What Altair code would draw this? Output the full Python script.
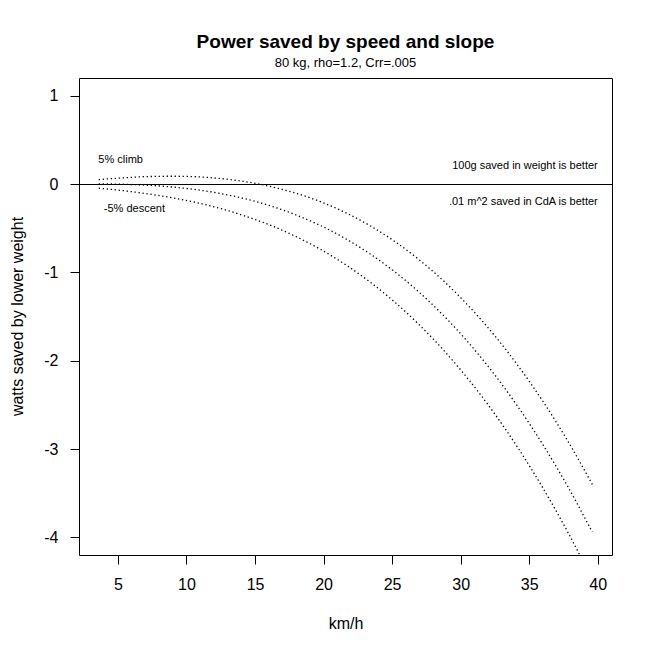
import altair as alt
import pandas as pd

# speeds (km/h) and watts saved by lower weight for each slope
speed_kmh = [3.6, 5.4, 7.2, 9.0, 10.8, 12.6, 14.4, 16.2, 18.0, 19.8, 21.6,
             23.4, 25.2, 27.0, 28.8, 30.6, 32.4, 34.2, 36.0, 37.8, 39.6]
climb_5 = [0.05, 0.07, 0.084, 0.088, 0.081, 0.060, 0.024, -0.031, -0.105, -0.202, -0.324,
           -0.473, -0.651, -0.861, -1.104, -1.384, -1.701, -2.060, -2.460, -2.906, -3.40]
flat_0 = [0.002, -0.003, -0.014, -0.035, -0.066, -0.111, -0.172, -0.251, -0.351, -0.472, -0.619,
          -0.792, -0.995, -1.229, -1.497, -1.801, -2.143, -2.526, -2.951, -3.421, -3.94]
descent_5 = [-0.047, -0.076, -0.112, -0.157, -0.213, -0.283, -0.369, -0.472, -0.596, -0.742, -0.913,
             -1.111, -1.338, -1.597, -1.889, -2.218, -2.584, -2.992, -3.442, -3.936, -4.48]

x_ticks = [5, 10, 15, 20, 25, 30, 35, 40]
y_ticks = [-4, -3, -2, -1, 0, 1]
x_domain = [2.16, 41.04]
y_domain = [-4.2, 1.2]
hline_y = [0]

ann_left_text = ["5% climb", "-5% descent"]
ann_left_x = [5.2, 6.2]
ann_left_y = [0.27, -0.28]
ann_right_text = ["100g saved in weight is better", ".01 m^2 saved in CdA is better"]
ann_right_x = [40, 40]
ann_right_y = [0.2, -0.2]

FONT = "Liberation Sans"

rows = []
for name, vals in [("5% climb", climb_5), ("flat", flat_0), ("-5% descent", descent_5)]:
    for s, v in zip(speed_kmh, vals):
        rows.append({"speed": s, "watts": v, "slope": name})
curves = pd.DataFrame(rows)

xscale = alt.Scale(domain=x_domain, nice=False, zero=False)
yscale = alt.Scale(domain=y_domain, nice=False, zero=False)

xaxis = alt.Axis(values=x_ticks, title="km/h", grid=False, domain=False,
                 tickSize=9, tickColor="black", labelFontSize=16, labelFont=FONT,
                 labelColor="black", labelBaseline="middle", labelPadding=20,
                 labelExpr="'' + datum.value",
                 titleFont=FONT, titleFontSize=16, titleFontWeight="normal",
                 titleColor="black", titleY=68, titleBaseline="middle", labelFlush=False)
yaxis = alt.Axis(values=y_ticks, title="watts saved by lower weight", grid=False,
                 domain=False, tickSize=9, tickColor="black", labelFontSize=16,
                 labelFont=FONT, labelColor="black", labelPadding=12, labelAngle=0,
                 labelExpr="'' + datum.value",
                 titleFont=FONT, titleFontSize=16, titleFontWeight="normal",
                 titleColor="black", titleX=-62, titleY=238, titleAngle=-90,
                 titleAlign="center", titleBaseline="middle", labelFlush=False)

lines = alt.Chart(curves).mark_line(
    color="black", strokeWidth=1.3, strokeDash=[1.3, 2.7], clip=True, interpolate="monotone"
).encode(
    x=alt.X("speed:Q", scale=xscale, axis=xaxis),
    y=alt.Y("watts:Q", scale=yscale, axis=yaxis),
    detail="slope:N",
)

hline = alt.Chart(pd.DataFrame({"y": hline_y})).mark_rule(
    color="black", strokeWidth=1, yOffset=0.5
).encode(y=alt.Y("y:Q", scale=yscale))

left_txt = alt.Chart(pd.DataFrame({"x": ann_left_x, "y": ann_left_y, "t": ann_left_text})).mark_text(
    font=FONT, fontSize=11, color="black", align="center", baseline="middle"
).encode(x=alt.X("x:Q", scale=xscale), y=alt.Y("y:Q", scale=yscale), text="t:N")

right_txt = alt.Chart(pd.DataFrame({"x": ann_right_x, "y": ann_right_y, "t": ann_right_text})).mark_text(
    font=FONT, fontSize=11, color="black", align="right", baseline="middle"
).encode(x=alt.X("x:Q", scale=xscale), y=alt.Y("y:Q", scale=yscale), text="t:N")

chart = alt.layer(lines, hline, left_txt, right_txt).properties(
    width=533,
    height=477,
    autosize=alt.AutoSizeParams(type="none"),
    padding={"left": 71, "top": 70, "right": 30, "bottom": 90},
    title=alt.TitleParams(
        text="Power saved by speed and slope",
        subtitle="80 kg, rho=1.2, Crr=.005",
        font=FONT, fontSize=19, fontWeight="bold", color="black",
        subtitleFont=FONT, subtitleFontSize=13, subtitleColor="black",
        anchor="middle", offset=8, subtitlePadding=5,
    ),
    background="white",
).configure_view(
    stroke="black", strokeWidth=1
)

chart.save("out.html", embed_options={"renderer": "svg", "actions": False})
